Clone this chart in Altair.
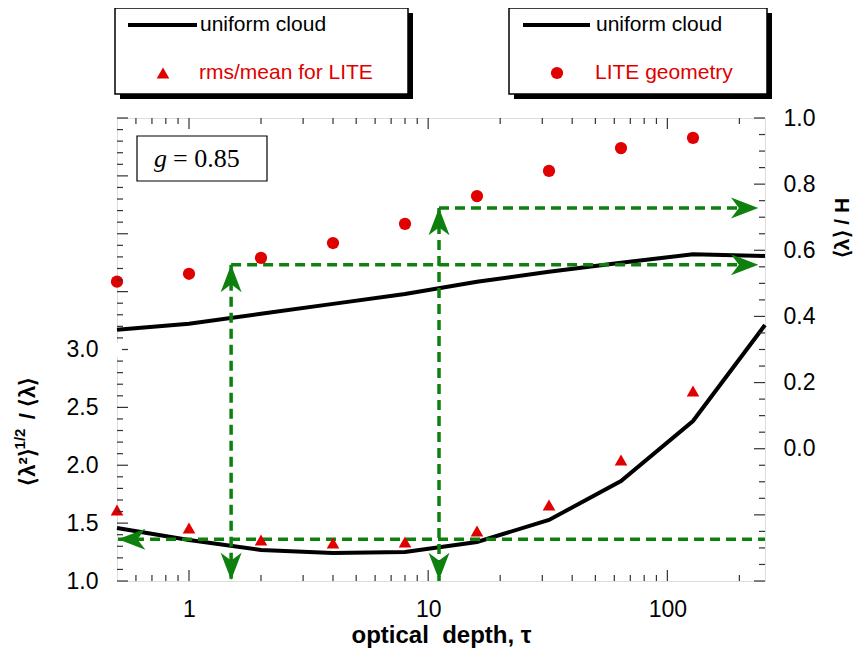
import altair as alt
import pandas as pd

# ---------------- data ----------------
tau = [0.5, 1, 2, 4, 8, 16, 32, 64, 128, 256]
uniform_mean = [0.360, 0.378, 0.408, 0.438, 0.468, 0.505, 0.535, 0.562, 0.588, 0.583]
uniform_ratio = [1.458, 1.354, 1.268, 1.242, 1.251, 1.337, 1.527, 1.864, 2.382, 3.212]

lite_tau = [0.5, 1, 2, 4, 8, 16, 32, 64, 128]
lite_mean = [0.505, 0.529, 0.577, 0.622, 0.680, 0.764, 0.840, 0.909, 0.940]
lite_ratio = [1.613, 1.458, 1.354, 1.328, 1.337, 1.432, 1.657, 2.045, 2.641]

# green guide arrows
guide_tau = [1.5, 11.1]          # vertical guides
guide_mean = [0.556, 0.728]      # horizontal guides on <lambda>/H axis
guide_ratio = 1.36               # horizontal guide on rms/mean axis
guide_tip_right = 240
guide_tip_left = 0.505
guide_bottom = -0.397

# axes
x_domain = [0.5, 256]
x_labels = [1, 10, 100]
x_minor = [0.6, 0.7, 0.8, 0.9, 2, 3, 4, 5, 6, 7, 8, 9, 20, 30, 40, 50, 60, 70, 80, 90, 200]
left_domain = [1.0, 5.0]
left_labels = [1.0, 1.5, 2.0, 2.5, 3.0]
left_major = [1.0, 1.5, 2.0, 2.5, 3.0, 3.5, 4.0, 4.5, 5.0]
left_minor = [round(1 + 0.1 * i, 1) for i in range(41) if i % 5]
right_domain = [-0.4, 1.0]
right_labels = [0.0, 0.2, 0.4, 0.6, 0.8, 1.0]
right_major = [-0.4, -0.2, 0.0, 0.2, 0.4, 0.6, 0.8, 1.0]
right_minor = [round(-0.4 + 0.05 * i, 2) for i in range(29) if i % 4]

W, H = 648, 463
GREEN = "#0d800d"
RED = "#e00000"
TICK = "#333333"
FONT = "Liberation Sans"
ARROW = "M0,0 L1,2.6 L0,1.85 L-1,2.6 Z"

xs = alt.Scale(type="log", domain=x_domain, nice=False)
yl = alt.Scale(domain=left_domain, nice=False, zero=False)
yr = alt.Scale(domain=right_domain, nice=False, zero=False)

df_u = pd.DataFrame({"tau": tau, "mean": uniform_mean, "ratio": uniform_ratio})
df_l = pd.DataFrame({"tau": lite_tau, "mean": lite_mean, "ratio": lite_ratio})
one = pd.DataFrame({"k": [0]})


def X(f="tau:Q"):
    return alt.X(f, scale=xs, axis=None)


upper_line = alt.Chart(df_u).mark_line(color="black", strokeWidth=4).encode(
    x=X(), y=alt.Y("mean:Q", scale=yr, axis=None))
lower_line = alt.Chart(df_u).mark_line(color="black", strokeWidth=4).encode(
    x=X(), y=alt.Y("ratio:Q", scale=yl, axis=None))

dash = dict(color=GREEN, strokeWidth=3.5, strokeDash=[10, 6])
h_df = pd.DataFrame({"t1": guide_tau, "t2": [guide_tip_right] * 2, "v": guide_mean})
v_df = pd.DataFrame({"t": guide_tau, "v1": guide_mean, "v2": [right_domain[0]] * 2})
b_df = pd.DataFrame({"t1": [guide_tip_left], "t2": [x_domain[1]], "v": [guide_ratio]})

h_rules = alt.Chart(h_df).mark_rule(**dash).encode(
    x=X("t1:Q"), x2="t2:Q", y=alt.Y("v:Q", scale=yr, axis=None))
v_rules = alt.Chart(v_df).mark_rule(**dash).encode(
    x=X("t:Q"), y=alt.Y("v1:Q", scale=yr, axis=None), y2="v2:Q")
b_rule = alt.Chart(b_df).mark_rule(**dash).encode(
    x=X("t1:Q"), x2="t2:Q", y=alt.Y("v:Q", scale=yl, axis=None))

heads_r = pd.DataFrame({
    "t": guide_tau + [guide_tip_right] * 2 + guide_tau,
    "v": guide_mean + guide_mean + [guide_bottom] * 2,
    "ang": [0, 0, 90, 90, 180, 180],
})
heads_l = pd.DataFrame({"t": [guide_tip_left], "v": [guide_ratio], "ang": [270]})
head_mark = dict(shape=ARROW, filled=True, color=GREEN, size=441, opacity=1, strokeWidth=0)
arrows_r = alt.Chart(heads_r).mark_point(**head_mark).encode(
    x=X("t:Q"), y=alt.Y("v:Q", scale=yr, axis=None), angle=alt.Angle("ang:Q", scale=None))
arrows_l = alt.Chart(heads_l).mark_point(**head_mark).encode(
    x=X("t:Q"), y=alt.Y("v:Q", scale=yl, axis=None), angle=alt.Angle("ang:Q", scale=None))

lab = dict(ticks=False, domain=False, grid=False, labelFont=FONT, labelFontSize=23,
           labelColor="black", labelFlush=False, labelOverlap=False, title=None)

circles = alt.Chart(df_l).mark_point(shape="circle", filled=True, color=RED, size=150, opacity=1).encode(
    x=X(),
    y=alt.Y("mean:Q", scale=yr,
            axis=alt.Axis(orient="right", values=right_labels, format=".1f", labelPadding=18, **lab)))

triangles = alt.Chart(df_l).mark_point(shape="triangle-up", filled=True, color=RED, size=160, opacity=1).encode(
    x=alt.X("tau:Q", scale=xs,
            axis=alt.Axis(orient="bottom", values=x_labels, format="~g", labelPadding=17,
                          ticks=False, domain=False, grid=False, labelFont=FONT, labelFontSize=23,
                          labelColor="black", labelFlush=False, labelOverlap=False,
                          title="optical\u00a0\u00a0depth, τ", titleFont=FONT, titleFontSize=24,
                          titleFontWeight="bold", titleColor="black", titlePadding=2)),
    y=alt.Y("ratio:Q", scale=yl,
            axis=alt.Axis(orient="left", values=left_labels, format=".1f", labelPadding=19, **lab)))


def yticks(vals, scale, x0, x1):
    return alt.Chart(pd.DataFrame({"v": vals})).mark_rule(color=TICK, strokeWidth=1.2).encode(
        y=alt.Y("v:Q", scale=scale, axis=None), x=alt.value(x0), x2=alt.value(x1))


def xticks(vals, y0, y1):
    return alt.Chart(pd.DataFrame({"t": vals})).mark_rule(color=TICK, strokeWidth=1.2).encode(
        x=X("t:Q"), y=alt.value(y0), y2=alt.value(y1))


ticks = [
    yticks(left_major, yl, 0, 11), yticks(left_minor, yl, 0, 6),
    yticks(right_major, yr, W, W - 11), yticks(right_minor, yr, W, W - 6),
    xticks(x_labels, H, H - 11), xticks(x_minor, H, H - 6),
    xticks(x_labels, 0, 11), xticks(x_minor, 0, 6),
]


def rect(x0, x1, y0, y1, **kw):
    return alt.Chart(one).mark_rect(**kw).encode(
        x=alt.value(x0), x2=alt.value(x1), y=alt.value(y0), y2=alt.value(y1))


def text(t, x, y, **kw):
    kw.setdefault("font", FONT)
    return alt.Chart(one).mark_text(text=t, **kw).encode(x=alt.value(x), y=alt.value(y))


# gap in the left axis line
gap = rect(-2, 5, 225, 239, color="white")

# g = 0.85 box
gbox = rect(20, 150, 18, 63, fill="white", stroke="black", strokeWidth=1.2)
g_txt = text("g", 37, 49, font="Liberation Serif", fontStyle="italic", fontSize=26,
             align="left", baseline="alphabetic", color="black")
g_val = text("= 0.85", 56, 49, font="Liberation Serif", fontSize=26,
             align="left", baseline="alphabetic", color="black")

# axis titles
lt1 = text("⟨λ²⟩", -89, 349, fontSize=22, fontWeight="bold", angle=270,
           align="center", baseline="middle", color="black")
lt2 = text("1/2", -97, 321, fontSize=15, fontWeight="bold", angle=270,
           align="center", baseline="middle", color="black")
lt3 = text("/ ⟨λ⟩", -89, 280, fontSize=22, fontWeight="bold", angle=270,
           align="center", baseline="middle", color="black")
rt = text("⟨λ⟩ / H", 726, 110, fontSize=21, fontWeight="bold", angle=270,
          align="center", baseline="middle", color="black")

# legends
leg = []
for (bx0, bx1, lx0, lx1, tx, sym, lab_txt, sx, sy_shape) in [
    (-2, 291, 11, 80, 83, "triangle-up", "rms/mean for LITE", 46, 160),
    (392, 650, 406, 473, 479, "circle", "LITE geometry", 440, 150),
]:
    leg.append(rect(bx0 + 5, bx1 + 5, -105, -19, color="black"))
    leg.append(rect(bx0, bx1, -110, -24, fill="white", stroke="black", strokeWidth=1.5))
    leg.append(alt.Chart(one).mark_rule(color="black", strokeWidth=4).encode(
        x=alt.value(lx0), x2=alt.value(lx1), y=alt.value(-93)))
    leg.append(text("uniform cloud", tx, -93, fontSize=21, align="left", baseline="middle", color="black"))
    leg.append(alt.Chart(one).mark_point(shape=sym, filled=True, color=RED, size=sy_shape, opacity=1).encode(
        x=alt.value(sx), y=alt.value(-45)))
    leg.append(text(lab_txt, tx - 1, -45, fontSize=21, align="left", baseline="middle", color=RED))

chart = alt.layer(
    upper_line, lower_line, h_rules, v_rules, b_rule, arrows_r, arrows_l,
    circles, triangles, *ticks, gap, gbox, g_txt, g_val, lt1, lt2, lt3, rt, *leg
).resolve_scale(y="independent").resolve_axis(x="independent", y="independent").properties(
    width=W, height=H,
    padding={"left": 109, "top": 110, "right": 90, "bottom": 70},
    autosize=alt.AutoSizeParams(type="none"),
).configure_view(stroke="black", strokeWidth=1.5).configure(background="white")

chart.save("out.html", embed_options={"renderer": "svg", "actions": False})
